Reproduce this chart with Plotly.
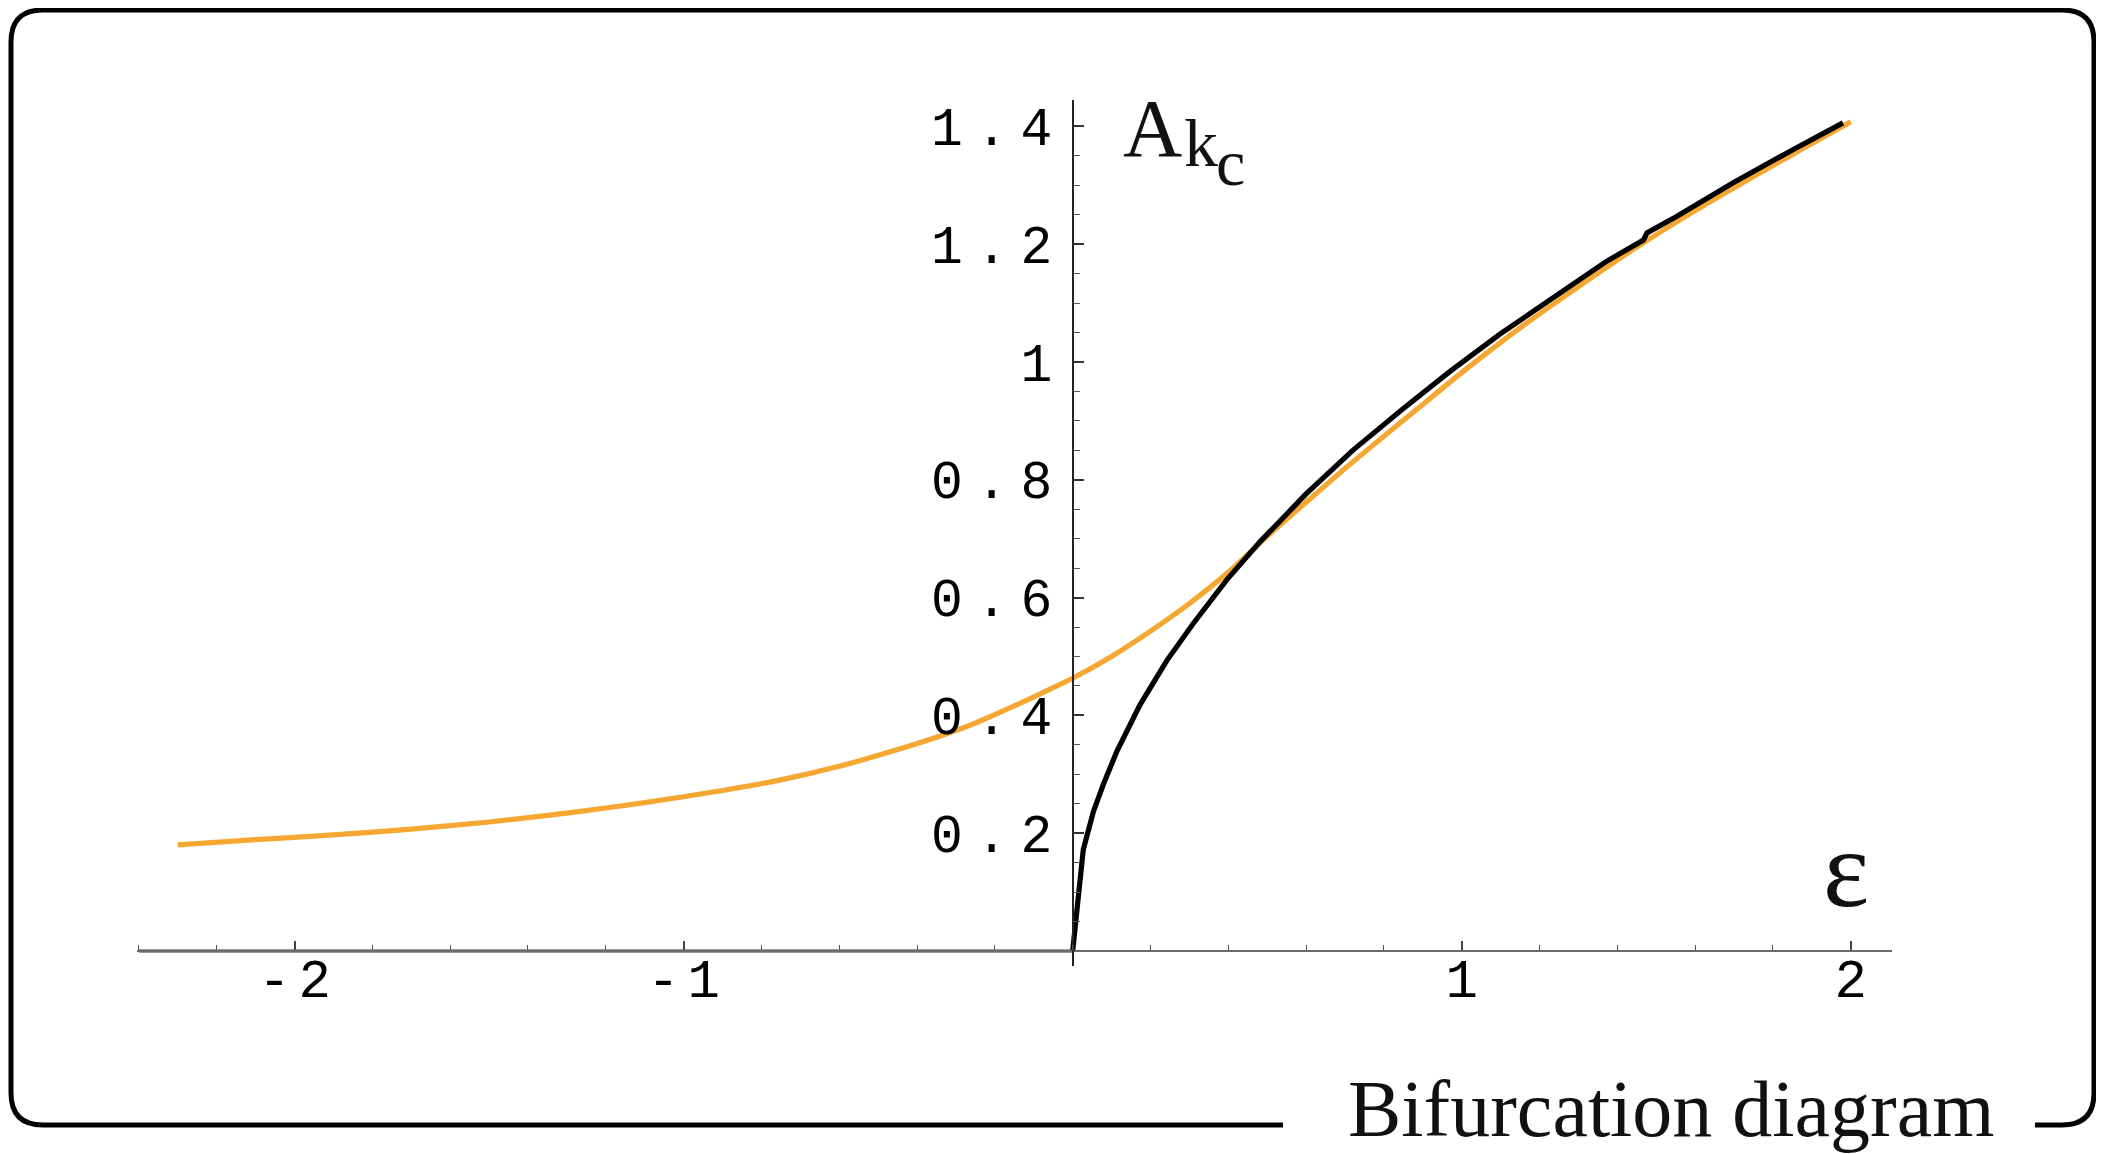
import plotly.graph_objects as go

# ---------------- data ----------------
eps_orange = [-2.30, -2.10, -1.90, -1.70, -1.50, -1.30, -1.10, -0.90, -0.75, -0.60,
              -0.45, -0.35, -0.25, -0.15, -0.05, 0.00, 0.10, 0.20, 0.30, 0.40,
              0.50, 0.60, 0.70, 0.80, 0.90, 1.00, 1.15, 1.30, 1.45, 1.60,
              1.75, 1.90, 2.00]
amp_orange = [0.180, 0.189, 0.197, 0.207, 0.219, 0.234, 0.252, 0.2725, 0.2905, 0.3135,
              0.342, 0.363, 0.387, 0.416, 0.447, 0.463, 0.500, 0.543, 0.590, 0.643,
              0.704, 0.762, 0.819, 0.874, 0.928, 0.982, 1.058, 1.128, 1.195, 1.257,
              1.315, 1.371, 1.408]

eps_black = [0.0, 0.0273, 0.053, 0.079, 0.113, 0.173, 0.242, 0.310, 0.396, 0.482,
             0.600, 0.720, 0.850, 0.970, 1.100, 1.250, 1.370, 1.467, 1.476, 1.550,
             1.700, 1.850, 1.980]
amp_black = [0.0, 0.172, 0.236, 0.283, 0.338, 0.418, 0.493, 0.556, 0.630, 0.695,
             0.776, 0.850, 0.921, 0.984, 1.048, 1.117, 1.170, 1.207, 1.219, 1.246,
             1.305, 1.360, 1.406]

eps_trivial = [-2.40, 0.0]
amp_trivial = [0.0, 0.0]

x_tickvals = [-2, -1, 1, 2]
x_ticktext = ["-2", "-1", "1", "2"]
y_tickvals = [0.2, 0.4, 0.6, 0.8, 1.0, 1.2, 1.4]
y_ticktext = ["0.2", "0.4", "0.6", "0.8", "1", "1.2", "1.4"]

# ---------------- layout geometry (page pixels; page body has an 8px margin) ----------------
OFF = 8
W, H = 2104 - OFF, 1154 - OFF
PL, PR, PT, PB = 137, 1892, 100, 966          # plot area in page pixels
ML, MR, MT, MB = PL - OFF, (2104 - PR), PT - OFF, (1154 - PB)
XR = [-2.405, 2.106]
YR = [-0.0255, 1.4448]
PW, PH = PR - PL, PB - PT


def px(x):
    return (x - PL) / PW


def py(y):
    return (PB - y) / PH


def spaced(s, ls):
    if len(s) <= 1:
        return s
    return '<span style="letter-spacing:%dpx">%s</span>%s' % (ls, s[:-1], s[-1])


fig = go.Figure()
# trivial branch drawn on the label-carrying companion x axis (same range/domain as x)
fig.add_trace(go.Scatter(x=eps_trivial, y=amp_trivial, mode="lines", xaxis="x2", yaxis="y",
                         line=dict(color="#3a3a3a", width=3), hoverinfo="skip"))
fig.add_trace(go.Scatter(x=eps_orange, y=amp_orange, mode="lines",
                         line=dict(color="#F5A731", width=5.2, shape="spline", smoothing=0.6),
                         hoverinfo="skip"))
fig.add_trace(go.Scatter(x=eps_black, y=amp_black, mode="lines",
                         line=dict(color="#000000", width=5.2), hoverinfo="skip"))

mono = "Liberation Mono, Courier New, monospace"
tick_font = dict(family=mono, size=53, color="#000")
xaxis_pos = (0 - YR[0]) / (YR[1] - YR[0])

fig.update_layout(
    width=W, height=H,
    margin=dict(l=ML, r=MR, t=MT, b=MB),
    paper_bgcolor="white", plot_bgcolor="white",
    showlegend=False,
    xaxis=dict(
        range=XR, anchor="free", position=xaxis_pos,
        showgrid=False, zeroline=False, automargin=False,
        showline=True, linecolor="#6a6a6a", linewidth=2,
        tickmode="array", tickvals=x_tickvals, ticktext=x_ticktext,
        showticklabels=False,
        ticks="inside", ticklen=9, tickwidth=1.5, tickcolor="#444",
        minor=dict(tick0=0, dtick=0.2, ticks="inside", ticklen=5, tickwidth=1.2,
                   tickcolor="#555", showgrid=False),
    ),
    # companion axis that carries the x tick labels, placed snugly under the axis line
    xaxis2=dict(
        range=XR, overlaying="x", anchor="free", position=xaxis_pos + 16.5 / PH,
        showgrid=False, zeroline=False, automargin=False, showline=False,
        tickmode="array", tickvals=x_tickvals, ticktext=[spaced(t, 8) for t in x_ticktext],
        ticks="", tickfont=dict(family=mono, size=54, color="#000"), ticklabelstandoff=8,
    ),
    yaxis=dict(
        range=YR, anchor="free", position=(0 - XR[0]) / (XR[1] - XR[0]),
        showgrid=False, zeroline=False, automargin=False,
        showline=True, linecolor="#222", linewidth=1.5,
        tickmode="array", tickvals=y_tickvals, ticktext=[spaced(t, 13) for t in y_ticktext],
        ticks="inside", ticklen=11, tickwidth=1.5, tickcolor="#333",
        tickfont=tick_font, ticklabelstandoff=9,
        minor=dict(tick0=0, dtick=0.05, ticks="inside", ticklen=7, tickwidth=1.2,
                   tickcolor="#555", showgrid=False),
    ),
)

serif = "Liberation Serif, Times New Roman, serif"
ann = []
# A_{k_c} label
ann.append(dict(text="A", x=px(1152), y=py(157 + 0.216 * 82 + 1), xref="paper", yref="paper",
                xanchor="center", yanchor="bottom", showarrow=False,
                font=dict(family=serif, size=82, color="#111")))
ann.append(dict(text="k", x=px(1201), y=py(167 + 0.216 * 68 + 1), xref="paper", yref="paper",
                xanchor="center", yanchor="bottom", showarrow=False,
                font=dict(family=serif, size=68, color="#111")))
ann.append(dict(text="c", x=px(1230), y=py(186 + 0.216 * 66 + 1), xref="paper", yref="paper",
                xanchor="center", yanchor="bottom", showarrow=False,
                font=dict(family=serif, size=66, color="#111")))
# epsilon label
ann.append(dict(text="ε", x=px(1846), y=py(907 + 0.216 * 110 + 1), xref="paper", yref="paper",
                xanchor="center", yanchor="bottom", showarrow=False,
                font=dict(family=serif, size=110, color="#111")))
# caption in the frame gap
ann.append(dict(text="Bifurcation diagram", x=px(1671), y=py(1137 + 0.216 * 80 + 1),
                xref="paper", yref="paper", xanchor="center", yanchor="bottom",
                showarrow=False, font=dict(family=serif, size=80, color="#111")))
fig.update_layout(annotations=ann)

# rounded frame with a gap at the bottom for the caption
R = 32
L_, T_, Rt, B_ = 11, 10, 2094, 1125
pts = [("M", 1283, B_), ("L", L_ + R, B_), ("Q", L_, B_, L_, B_ - R), ("L", L_, T_ + R),
       ("Q", L_, T_, L_ + R, T_), ("L", Rt - R, T_), ("Q", Rt, T_, Rt, T_ + R),
       ("L", Rt, B_ - R), ("Q", Rt, B_, Rt - R, B_), ("L", 2035, B_)]
path = ""
for p in pts:
    cmd = p[0]
    coords = p[1:]
    seg = []
    for i in range(0, len(coords), 2):
        seg.append("%.6f,%.6f" % (px(coords[i]), py(coords[i + 1])))
    path += cmd + " " + " ".join(seg) + " "
fig.add_shape(type="path", path=path.strip(), xref="paper", yref="paper",
              line=dict(color="black", width=5), layer="above")

fig.write_html("out.html")
